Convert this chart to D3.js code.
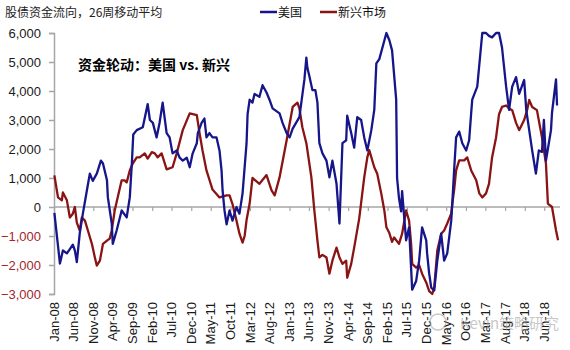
<!DOCTYPE html>
<html>
<head>
<meta charset="utf-8">
<script src="https://cdn.jsdelivr.net/npm/d3@7"></script>
<style>
  body { margin: 0; background: #fff; }
  svg { display: block; }
</style>
</head>
<body>
<div id="chart"></div>
<script>
// weekly fund flows, 26-week moving average (USD mn)
var usFlows = [
  ["2008-01-04", -200], ["2008-02-16", -1950], ["2008-03-10", -1500], ["2008-04-10", -1600],
  ["2008-05-03", -1450], ["2008-05-26", -1300], ["2008-06-11", -1500], ["2008-06-26", -1900],
  ["2008-07-19", -900], ["2008-08-12", -230], ["2008-09-12", 570], ["2008-10-05", 1150],
  ["2008-10-28", 900], ["2008-11-28", 1150], ["2008-12-06", 1260], ["2008-12-30", 1600],
  ["2009-01-15", 1500], ["2009-02-15", 920], ["2009-02-22", 330], ["2009-03-24", -570],
  ["2009-04-01", -1270], ["2009-05-01", -810], ["2009-06-09", -120], ["2009-07-18", -360],
  ["2009-08-11", 330], ["2009-08-27", 1500], ["2009-09-07", 2500], ["2009-10-04", 2650],
  ["2009-11-20", 2750], ["2009-12-28", 3550], ["2010-01-14", 3000], ["2010-02-06", 2900],
  ["2010-03-07", 2400], ["2010-03-30", 2900], ["2010-04-23", 3600], ["2010-05-24", 2550],
  ["2010-06-16", 2400], ["2010-07-09", 1850], ["2010-08-10", 1950], ["2010-09-02", 1700],
  ["2010-09-26", 1600], ["2010-10-27", 1700], ["2010-11-19", 1370], ["2010-12-12", 1850],
  ["2011-01-13", 2200], ["2011-01-21", 2550], ["2011-02-19", 2900], ["2011-03-13", 3050],
  ["2011-03-29", 2400], ["2011-04-21", 2550], ["2011-05-15", 2400], ["2011-06-15", 2400],
  ["2011-07-08", 1950], ["2011-07-24", 1260], ["2011-08-01", 570], ["2011-08-16", -120],
  ["2011-09-01", -600], ["2011-09-24", -120], ["2011-10-17", -470], ["2011-11-17", 0],
  ["2011-12-10", -230], ["2012-01-03", 470], ["2012-02-03", 2200], ["2012-02-11", 3200],
  ["2012-02-27", 3700], ["2012-03-20", 3600], ["2012-04-05", 3900], ["2012-05-13", 3800],
  ["2012-06-06", 4200], ["2012-07-07", 3950], ["2012-07-30", 3700], ["2012-08-23", 3400],
  ["2012-10-16", 3230], ["2012-11-09", 2890], ["2012-12-10", 2550], ["2013-01-02", 2400],
  ["2013-01-26", 2700], ["2013-03-19", 3100], ["2013-04-27", 4400], ["2013-05-12", 5150],
  ["2013-05-20", 4800], ["2013-06-05", 4500], ["2013-06-28", 4030], ["2013-07-21", 4030],
  ["2013-08-06", 3600], ["2013-08-21", 2200], ["2013-09-14", 1850], ["2013-10-15", 1600],
  ["2013-11-07", 1020], ["2013-11-30", 1600], ["2014-01-01", 800], ["2014-01-24", -570],
  ["2014-02-16", 2200], ["2014-03-17", 2300], ["2014-03-25", 3150], ["2014-04-25", 2550],
  ["2014-05-18", 2050], ["2014-06-11", 3100], ["2014-07-11", 3000], ["2014-08-04", 2400],
  ["2014-08-28", 1950], ["2014-09-28", 2650], ["2014-10-21", 3350], ["2014-11-06", 4950],
  ["2014-11-29", 5100], ["2015-01-23", 6000], ["2015-02-15", 5750], ["2015-03-08", 5400],
  ["2015-04-09", 3700], ["2015-04-16", 1000], ["2015-05-01", 300], ["2015-05-17", -150],
  ["2015-05-25", 550], ["2015-06-10", -350], ["2015-06-25", -1150], ["2015-07-18", -700],
  ["2015-08-11", -2850], ["2015-09-11", -2550], ["2015-10-04", -1850], ["2015-10-27", -700],
  ["2015-11-28", -1150], ["2015-12-05", -1600], ["2015-12-21", -2300], ["2016-01-06", -2780],
  ["2016-01-29", -2880], ["2016-02-22", -1850], ["2016-03-23", -920], ["2016-04-15", -1850],
  ["2016-05-09", -1600], ["2016-06-09", -470], ["2016-06-17", 100], ["2016-07-02", 1300],
  ["2016-07-17", 2400], ["2016-08-10", 2600], ["2016-09-03", 2200], ["2016-10-03", 1950],
  ["2016-10-26", 2300], ["2016-11-11", 3250], ["2016-11-19", 3700], ["2016-12-28", 4150],
  ["2017-02-05", 6000], ["2017-03-06", 6000], ["2017-03-29", 5900], ["2017-04-22", 5850],
  ["2017-05-23", 6000], ["2017-06-15", 6000], ["2017-07-08", 5500], ["2017-08-09", 4150],
  ["2017-09-01", 3350], ["2017-09-25", 4150], ["2017-10-25", 4480], ["2017-11-18", 3900],
  ["2017-12-27", 4380], ["2018-01-12", 3350], ["2018-02-27", 1950], ["2018-03-28", 1150],
  ["2018-04-20", 1950], ["2018-05-14", 1900], ["2018-05-29", 3000], ["2018-06-14", 1600],
  ["2018-06-29", 2000], ["2018-07-23", 2650], ["2018-07-31", 3250], ["2018-08-31", 4400],
  ["2018-09-08", 3500]
];

var emFlows = [
  ["2008-01-04", 1090], ["2008-02-01", 330], ["2008-03-02", 230], ["2008-03-10", 500],
  ["2008-04-10", 230], ["2008-05-03", -360], ["2008-05-26", -230], ["2008-06-11", 0],
  ["2008-06-26", -540], ["2008-07-19", -810], ["2008-08-04", -360], ["2008-08-28", -470],
  ["2008-09-20", -810], ["2008-10-21", -1270], ["2008-11-13", -1740], ["2008-11-28", -2020],
  ["2008-12-22", -1850], ["2009-01-15", -1270], ["2009-02-15", -1160], ["2009-03-08", -1090],
  ["2009-03-24", -810], ["2009-04-16", -120], ["2009-05-09", 330], ["2009-06-09", 920],
  ["2009-07-02", 920], ["2009-07-18", 850], ["2009-08-11", 1260], ["2009-09-03", 1500],
  ["2009-10-04", 1710], ["2009-10-27", 1710], ["2009-12-05", 1850], ["2009-12-28", 1670],
  ["2010-01-29", 1890], ["2010-02-21", 1850], ["2010-03-15", 1710], ["2010-04-15", 1850],
  ["2010-05-24", 1300], ["2010-07-09", 1370], ["2010-08-10", 1850], ["2010-09-26", 2650],
  ["2010-11-19", 3230], ["2011-01-13", 3170], ["2011-02-05", 2500], ["2011-02-26", 1960],
  ["2011-03-29", 1260], ["2011-05-15", 600], ["2011-07-08", 330], ["2011-09-01", 400],
  ["2011-09-24", 400], ["2011-10-17", 100], ["2011-11-17", -470], ["2011-12-10", -920],
  ["2012-01-03", -1230], ["2012-01-19", -1000], ["2012-02-03", -450], ["2012-02-27", 120],
  ["2012-03-20", 1000], ["2012-05-13", 800], ["2012-07-07", 1100], ["2012-08-15", 570],
  ["2012-09-08", 400], ["2012-10-16", 1020], ["2012-12-10", 2300], ["2013-01-26", 3450],
  ["2013-03-04", 3600], ["2013-03-19", 3400], ["2013-04-11", 2750], ["2013-05-12", 2200],
  ["2013-06-20", 1020], ["2013-07-13", -120], ["2013-08-06", -1160], ["2013-08-21", -1740],
  ["2013-09-14", -1650], ["2013-10-15", -1740], ["2013-11-07", -2300], ["2013-11-30", -1850],
  ["2014-01-01", -1400], ["2014-01-24", -1740], ["2014-02-16", -1960], ["2014-03-17", -1850],
  ["2014-03-25", -2440], ["2014-04-25", -1960], ["2014-05-18", -1400], ["2014-06-26", -400],
  ["2014-08-04", 1020], ["2014-08-28", 1710], ["2014-09-12", 1960], ["2014-10-21", 1370],
  ["2014-11-13", 1150], ["2014-12-14", 470], ["2015-01-07", -120], ["2015-01-23", -700],
  ["2015-02-15", -900], ["2015-03-08", -1200], ["2015-03-24", -1050], ["2015-05-01", -1270],
  ["2015-05-25", -920], ["2015-06-25", -120], ["2015-07-18", -470], ["2015-08-03", -1270],
  ["2015-08-11", -1960], ["2015-09-11", -2090], ["2015-10-04", -2000], ["2015-10-27", -2300],
  ["2015-11-28", -2600], ["2015-12-21", -2900], ["2016-01-14", -3000], ["2016-01-29", -2780],
  ["2016-02-22", -1500], ["2016-03-23", -920], ["2016-04-15", -810], ["2016-05-09", -570],
  ["2016-06-09", -230], ["2016-06-17", 100], ["2016-07-02", 600], ["2016-07-17", 1260],
  ["2016-08-10", 1610], ["2016-09-18", 1610], ["2016-10-11", 1710], ["2016-11-11", 1260],
  ["2016-12-20", 920], ["2017-01-13", 470], ["2017-02-05", 330], ["2017-03-06", 470],
  ["2017-03-29", 800], ["2017-04-22", 1710], ["2017-05-23", 2400], ["2017-06-15", 3200],
  ["2017-07-08", 3450], ["2017-08-09", 3500], ["2017-09-01", 3400], ["2017-09-25", 3340],
  ["2017-10-25", 2900], ["2017-11-18", 2650], ["2017-12-27", 3000], ["2018-01-19", 3340],
  ["2018-02-04", 3690], ["2018-02-27", 3450], ["2018-04-05", 3340], ["2018-05-14", 2400],
  ["2018-06-14", 1500], ["2018-06-29", 120], ["2018-07-31", 0], ["2018-08-31", -800],
  ["2018-09-16", -1150]
];

var yTicks = [-3000, -2000, -1000, 0, 1000, 2000, 3000, 4000, 5000, 6000];
var xTickLabels = ["Jan-08", "Jun-08", "Nov-08", "Apr-09", "Sep-09", "Feb-10", "Jul-10",
  "Dec-10", "May-11", "Oct-11", "Mar-12", "Aug-12", "Jan-13", "Jun-13", "Nov-13", "Apr-14",
  "Sep-14", "Feb-15", "Jul-15", "Dec-15", "May-16", "Oct-16", "Mar-17", "Aug-17", "Jan-18",
  "Jun-18"];

var W = 570, H = 350;
var plotLeft = 54, plotRight = 560, plotTop = 33, plotBottom = 294;
var latin = "'Liberation Sans', Arial, sans-serif";
var cjk = "'Noto Sans CJK SC', sans-serif";
var blue = "#16168a", red = "#8a1414", axisGrey = "#a6a6a6";

var parseDate = d3.timeParse("%Y-%m-%d");
var parseLabel = d3.timeParse("%b-%y");

var svg = d3.select("#chart").append("svg")
    .attr("width", W)
    .attr("height", H);

var x = d3.scaleTime()
    .domain([new Date(2008, 0, 1), new Date(2018, 9, 1)])
    .range([plotLeft, plotRight]);

var y = d3.scaleLinear()
    .domain([-3000, 6000])
    .range([plotBottom, plotTop]);

// y axis on the left
var yAxis = svg.append("g")
    .attr("transform", "translate(" + plotLeft + ",0)")
    .call(d3.axisLeft(y).tickValues(yTicks).tickSize(5).tickPadding(8)
      .tickFormat(d3.format(",")));
yAxis.select(".domain").attr("stroke", axisGrey).attr("stroke-width", 1.5);
yAxis.selectAll(".tick line").attr("stroke", axisGrey).attr("stroke-width", 1.5);
yAxis.selectAll(".tick text")
    .style("font-family", latin)
    .style("font-size", "13px")
    .attr("fill", function(d) { return d < 0 ? "#a3262a" : "#1a1a1a"; });

// category axis along the zero line
var tickDates = xTickLabels.map(function(s) { return parseLabel(s); });
var xAxis = svg.append("g")
    .attr("transform", "translate(0," + y(0) + ")")
    .call(d3.axisBottom(x).tickValues(tickDates).tickSize(4).tickFormat(""));
xAxis.select(".domain").attr("stroke", axisGrey).attr("stroke-width", 1.5)
    .attr("d", "M" + plotLeft + ",0H" + plotRight);
xAxis.selectAll(".tick line").attr("stroke", axisGrey).attr("stroke-width", 1.2);

// month labels below the plot, rotated
svg.append("g").selectAll("text")
  .data(xTickLabels)
  .enter().append("text")
    .attr("transform", function(d) {
      return "translate(" + (x(parseLabel(d)) + 4.5) + "," + 302 + ") rotate(-90)";
    })
    .attr("text-anchor", "end")
    .style("font-family", latin)
    .style("font-size", "13px")
    .attr("fill", "#1a1a1a")
    .text(function(d) { return d; });

// series lines
var line = d3.line()
    .x(function(d) { return x(parseDate(d[0])); })
    .y(function(d) { return y(d[1]); });

svg.append("path")
    .datum(emFlows)
    .attr("fill", "none")
    .attr("stroke", red)
    .attr("stroke-width", 2.3)
    .attr("stroke-linejoin", "round")
    .attr("d", line);

svg.append("path")
    .datum(usFlows)
    .attr("fill", "none")
    .attr("stroke", blue)
    .attr("stroke-width", 2.3)
    .attr("stroke-linejoin", "round")
    .attr("d", line);

// title, legend and note
svg.append("text")
    .attr("x", 5).attr("y", 17)
    .style("font-family", cjk)
    .style("font-size", "12px")
    .attr("fill", "#222")
    .text("股债资金流向，26周移动平均");

var legend = [{name: "美国", color: blue, x: 260}, {name: "新兴市场", color: red, x: 320}];
var lg = svg.append("g").selectAll("g").data(legend).enter().append("g");
lg.append("line")
    .attr("x1", function(d) { return d.x; })
    .attr("x2", function(d) { return d.x + 17; })
    .attr("y1", 12).attr("y2", 12)
    .attr("stroke", function(d) { return d.color; })
    .attr("stroke-width", 2.5);
lg.append("text")
    .attr("x", function(d) { return d.x + 18; })
    .attr("y", 17)
    .style("font-family", cjk)
    .style("font-size", "12px")
    .attr("fill", "#111")
    .text(function(d) { return d.name; });

svg.append("text")
    .attr("x", 78).attr("y", 70)
    .style("font-family", cjk)
    .style("font-size", "14px")
    .style("font-weight", "bold")
    .attr("fill", "#000")
    .text("资金轮动：美国 vs. 新兴");

// account mark in the corner
var mark = svg.append("g").attr("opacity", 0.55);
mark.append("circle")
    .attr("cx", 438).attr("cy", 322).attr("r", 8)
    .attr("fill", "none").attr("stroke", "#9a9a9a").attr("stroke-width", 1.5);
mark.append("text")
    .attr("x", 460).attr("y", 329)
    .style("font-family", cjk)
    .style("font-size", "15px")
    .attr("fill", "#9a9a9a")
    .text("Kevin策略研究");
</script>
</body>
</html>
